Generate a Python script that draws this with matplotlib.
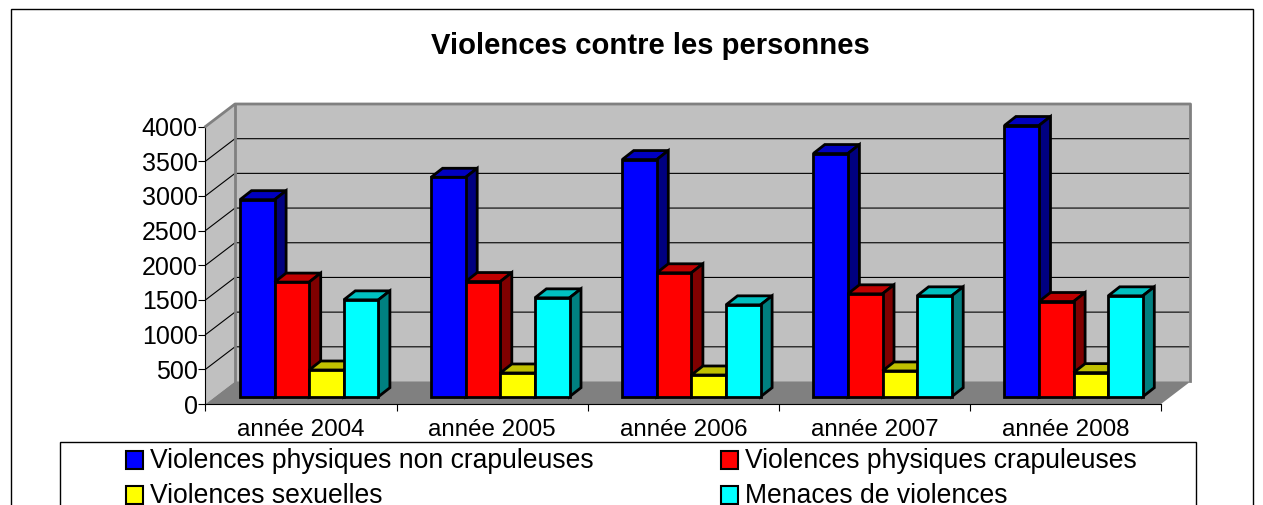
import matplotlib
matplotlib.use("Agg")
import matplotlib.pyplot as plt
from matplotlib.patches import Polygon, Rectangle

plt.rcParams['font.family'] = ['Liberation Sans', 'DejaVu Sans']

years = ["année 2004", "année 2005", "année 2006", "année 2007", "année 2008"]
physiques_non_crap = [2840, 3163, 3418, 3505, 3909]
physiques_crap = [1652, 1660, 1786, 1483, 1372]
sexuelles = [385, 342, 313, 371, 347]
menaces = [1396, 1425, 1324, 1454, 1454]
series_names = ["Violences physiques non crapuleuses", "Violences physiques crapuleuses",
                "Violences sexuelles", "Menaces de violences"]
y_ticks = list(range(0, 4001, 500))

W, H = 1263, 505
fig = plt.figure(figsize=(W / 100, H / 100), dpi=100)

# front plane of the fake 3d box, in image pixels
left, right, top, bottom = 205.5, 1161, 126.5, 404
ax = fig.add_axes([left / W, 1 - bottom / H, (right - left) / W, (bottom - top) / H])
ax.set_xlim(0, 5)
ax.set_ylim(0, 4000)
ax.patch.set_visible(False)

px_x = 5 / (right - left)
px_y = 4000 / (bottom - top)
wall_dx, wall_dy = 29.5 * px_x, 22.5 * px_y
bar_dx, bar_dy = 11.5 * px_x, 9 * px_y
bar_w = 34.6 * px_x
bar_x0 = 34.5 * px_x   # first bar's left edge, from the category's start
bar_y0 = 7.3 * px_y


def poly(points, color, ec='none', lw=0, z=1):
    ax.add_patch(Polygon(points, closed=True, fc=color, ec=ec, lw=lw, zorder=z,
                         clip_on=False, joinstyle='miter'))


# side wall, back wall, floor
poly([(0, 0), (wall_dx, wall_dy), (wall_dx, 4000 + wall_dy), (0, 4000)], '#C0C0C0')
poly([(wall_dx, wall_dy), (5 + wall_dx, wall_dy), (5 + wall_dx, 4000 + wall_dy), (wall_dx, 4000 + wall_dy)], '#C0C0C0')
poly([(0, 0), (5, 0), (5 + wall_dx, wall_dy), (wall_dx, wall_dy)], '#808080')

for v in y_ticks[1:-1]:
    ax.plot([0, wall_dx, 5 + wall_dx], [v, v + wall_dy, v + wall_dy], color='black', lw=0.8, zorder=2, clip_on=False)
# wall outline
ax.plot([0, wall_dx, 5 + wall_dx, 5 + wall_dx], [4000, 4000 + wall_dy, 4000 + wall_dy, wall_dy],
        color='#808080', lw=2, zorder=2, clip_on=False)
ax.plot([wall_dx, wall_dx], [wall_dy, 4000 + wall_dy], color='#808080', lw=2, zorder=2, clip_on=False)

all_series = [physiques_non_crap, physiques_crap, sexuelles, menaces]
fronts = ['#0000FF', '#FF0000', '#FFFF00', '#00FFFF']
tops = ['#0000C0', '#C00000', '#C0C000', '#00C0C0']
sides = ['#000080', '#800000', '#808000', '#008080']

z = 3
for i in range(len(years)):
    for j, vals in enumerate(all_series):
        x0 = i + bar_x0 + j * bar_w
        x1 = x0 + bar_w
        y0 = bar_y0
        y1 = bar_y0 + vals[i]
        poly([(x0, y1), (x1, y1), (x1 + bar_dx, y1 + bar_dy), (x0 + bar_dx, y1 + bar_dy)], tops[j], 'black', 2, z)
        poly([(x1, y0), (x1 + bar_dx, y0 + bar_dy), (x1 + bar_dx, y1 + bar_dy), (x1, y1)], sides[j], 'black', 2, z)
        poly([(x0, y0), (x1, y0), (x1, y1), (x0, y1)], fronts[j], 'black', 2, z)
        z += 1

for s in ['top', 'right']:
    ax.spines[s].set_visible(False)
for s in ['left', 'bottom']:
    ax.spines[s].set_linewidth(0.8)
    ax.spines[s].set_zorder(1.5)
ax.set_yticks(y_ticks)
ax.set_xticks(range(6))
ax.set_xticklabels([])
ax.set_xticks([i + 0.5 for i in range(5)], years, minor=True)
ax.tick_params(axis='y', labelsize=18, length=5, width=0.8, pad=0.5)
ax.tick_params(axis='x', which='major', length=5, width=0.8)
ax.tick_params(axis='x', which='minor', length=0, labelsize=17.4, pad=11)

fig.text(650 / W, 1 - 46 / H, "Violences contre les personnes", fontsize=21.1, fontweight='bold',
         ha='center', va='center')

# outer frame runs past the bottom of the picture
fig.add_artist(Rectangle((11 / W, -0.1), (1253 - 11) / W, 1.1 - 9 / H, transform=fig.transFigure,
                         fc='none', ec='black', lw=1))
fig.add_artist(Rectangle((60 / W, -0.1), (1196 - 60) / W, 0.1 + 1 - 442 / H, transform=fig.transFigure,
                         fc='white', ec='black', lw=1))

leg_x = [126, 721, 126, 721]
leg_y = [460, 460, 495, 495]
for name, color, lx, ly in zip(series_names, fronts, leg_x, leg_y):
    fig.add_artist(Rectangle((lx / W, 1 - (ly + 9) / H), 17 / W, 18 / H, transform=fig.transFigure,
                             fc=color, ec='black', lw=1.5))
    fig.text((lx + 24) / W, 1 - (ly + 1) / H, name, fontsize=19.1, ha='left', va='center')

fig.savefig("out.png", dpi=100)
